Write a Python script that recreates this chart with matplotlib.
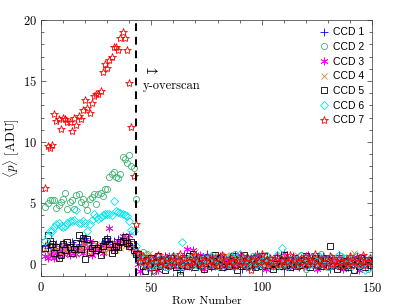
import numpy as np
import matplotlib
matplotlib.use("Agg")
import matplotlib.pyplot as plt

plt.rcParams['mathtext.fontset'] = 'cm'
plt.rcParams['axes.formatter.use_mathtext'] = True

rows_pre = list(range(2, 44))
rows_post = list(range(44, 151))

ccd1_pre = [1.5,1.3,1.7,1.4,1.2,1.6,1.3,1.5,1.7,1.4,1.2,1.6,1.8,1.5,1.3,1.6,1.9,2.0,2.1,1.8,
            1.7,1.3,1.2,1.4,1.1,1.5,1.7,1.9,2.1,1.8,1.6,1.9,1.7,2.0,1.9,2.2,1.8,1.6,1.9,1.4,1.1,0.9]
ccd2_pre = [4.7,5.0,5.26,5.26,5.26,4.57,4.85,5.07,5.3,5.8,4.5,5.07,5.2,4.5,5.67,5.75,5.07,5.35,4.93,4.43,
            5.35,5.48,5.75,4.93,5.75,5.83,5.6,6.17,6.17,7.13,7.4,7.55,7.13,7.0,7.4,8.73,8.6,8.24,8.93,8.0,7.9,5.35]
ccd3_pre = [0.6,0.5,0.8,0.7,0.5,0.9,0.6,1.1,0.8,1.3,1.0,0.7,1.2,0.9,0.8,1.5,1.1,0.9,1.6,1.3,
            1.9,0.7,1.0,1.4,1.2,1.5,0.9,1.3,1.6,2.9,1.4,1.2,1.7,1.5,1.9,2.3,2.0,1.7,2.4,1.5,1.2,0.8]
ccd4_pre = [1.2,1.6,1.0,1.3,1.5,1.1,1.4,0.9,1.6,1.2,1.0,1.3,1.7,1.1,0.8,1.4,1.2,1.9,1.5,1.0,
            1.3,0.9,1.2,1.6,1.4,1.1,1.3,1.0,1.5,1.2,1.4,1.7,1.1,1.6,1.3,1.8,1.5,2.0,1.6,1.3,1.0,1.1]
ccd5_pre = [1.3,2.4,1.9,1.6,0.9,1.4,0.5,0.7,1.6,1.1,1.8,1.4,0.9,1.2,1.7,2.4,1.2,2.1,0.4,2.0,
            1.0,1.3,1.6,1.1,1.3,0.7,1.5,1.9,2.0,1.6,0.9,1.1,1.5,1.4,1.8,1.9,2.2,1.7,1.5,1.8,1.1,0.8]
ccd6_pre = [1.85,2.3,2.73,2.7,3.0,3.28,3.33,3.14,3.0,3.14,3.33,3.55,3.5,3.6,4.38,3.33,3.33,3.5,3.33,2.73,
            3.28,3.6,4.1,3.83,3.7,3.83,3.97,4.1,4.1,4.1,3.97,5.15,4.3,4.25,4.17,4.05,3.97,3.9,3.55,2.8,2.73,1.5]
ccd7_pre = [6.2,9.67,9.5,9.75,12.3,11.7,11.9,11.05,11.95,11.9,11.6,11.6,10.9,12.0,11.35,12.15,11.9,12.6,13.4,12.8,
            12.35,13.2,13.8,13.9,13.9,14.2,15.7,16.4,16.1,16.7,17.0,17.8,17.8,17.5,18.5,19.0,18.5,17.5,14.8,11.2,7.2,3.3]

ccd1_post = [0.7,0.4,0.0,0.3,-0.3,0.2,-0.5,0.1,0.5,0.0,
             0.3,-0.1,0.6,0.2,-0.2,0.1,0.5,-0.1,0.3,-0.5,
             0.2,0.7,0.0,0.4,-0.3,0.3,0.1,0.6,-0.1,0.2,
             0.5,0.8,0.0,-0.3,0.3,-0.1,0.2,0.6,0.0,0.3,
             -0.2,0.4,0.2,-0.1,0.7,0.0,0.3,-0.4,0.2,0.5,
             -0.1,0.3,0.0,0.6,0.8,0.2,-0.3,0.4,0.1,0.3,
             -0.1,0.2,0.4,0.7,0.0,0.3,-0.4,0.2,-0.1,0.5,
             0.6,0.0,0.3,-0.3,0.2,0.4,-0.1,0.7,0.1,0.3,
             0.2,-0.3,0.5,0.0,0.6,-0.1,0.3,-0.4,0.2,0.4,
             0.0,0.7,0.3,-0.1,0.2,-0.3,0.5,0.1,0.3,0.6,
             -0.1,0.2,0.5,0.0,0.3,-0.2,0.2]
ccd2_post = [0.9,0.7,1.0,0.4,0.8,0.2,0.5,0.0,0.3,-0.1,
             0.4,0.2,-0.3,0.3,0.0,0.5,-0.1,0.2,0.4,-0.6,
             0.3,0.0,-0.2,0.4,0.2,-0.1,0.5,0.3,0.0,-0.3,
             0.2,0.4,-0.1,0.3,0.7,0.0,0.2,-0.2,0.4,0.1,
             0.3,-0.1,0.6,0.2,0.8,0.0,0.3,0.5,-0.1,0.2,
             -0.3,0.1,0.6,0.3,-0.1,0.2,0.4,0.0,0.7,-0.2,
             0.3,0.0,0.2,0.5,-0.1,0.3,0.6,0.1,-0.3,0.2,
             0.4,-0.1,0.3,0.0,0.7,0.2,-0.4,0.4,0.1,0.3,
             -0.1,0.6,0.2,0.8,0.0,0.3,-0.3,0.2,0.5,-0.1,
             0.3,0.0,0.6,0.2,-0.2,0.4,0.1,0.3,-0.5,0.2,
             0.4,-0.1,0.3,0.0,-0.4,0.2,0.3]
ccd3_post = [0.0,-0.6,0.1,-0.2,0.4,-0.3,0.2,0.0,0.5,-0.5,
             0.1,0.4,-0.2,0.2,0.6,0.0,-0.3,0.4,0.1,0.5,
             0.0,0.2,1.2,-0.2,0.1,1.1,0.3,0.0,0.7,0.2,
             -0.4,0.1,0.4,0.0,0.5,-0.2,0.2,0.1,0.6,-0.3,
             0.3,0.0,0.2,0.5,-0.2,0.1,0.7,0.0,0.3,-0.3,
             0.2,0.5,0.1,-0.2,0.4,0.0,0.6,0.2,-0.4,0.1,
             0.3,-0.2,0.5,0.1,0.0,0.2,0.9,-0.2,0.3,0.1,
             -0.3,0.2,0.5,0.0,0.3,-0.2,0.1,0.6,0.2,0.0,
             0.3,-0.4,0.1,0.5,-0.2,0.2,0.0,0.4,0.1,-0.3,
             0.2,0.5,0.0,-0.4,0.3,0.1,-0.2,0.2,0.0,0.5,
             -0.5,0.1,0.3,-0.2,0.2,0.0,0.1]
ccd4_post = [0.8,0.4,0.1,0.6,0.2,0.8,-0.1,0.5,0.0,0.3,
             -0.2,0.2,0.6,0.0,0.3,-0.1,0.5,0.7,0.2,-0.2,
             0.3,0.0,0.5,-0.1,0.2,0.6,1.0,0.0,0.3,-0.1,
             0.5,0.2,-0.3,0.3,0.0,0.6,-0.1,0.2,0.5,0.0,
             0.7,0.3,-0.2,0.2,0.5,-0.1,0.3,0.0,0.6,0.2,
             -0.1,0.5,0.0,0.3,-0.3,0.2,0.6,-0.1,0.3,0.0,
             0.5,0.2,-0.1,0.3,0.0,0.6,-0.3,0.2,0.5,-0.1,
             0.3,0.0,0.7,0.2,-0.3,0.3,0.0,0.5,-0.1,0.2,
             0.6,0.0,0.3,-0.2,0.2,0.5,-0.1,0.3,0.0,0.6,
             0.2,-0.1,0.5,0.0,0.3,-0.3,0.2,0.6,0.9,0.0,
             0.3,-0.1,0.5,0.2,0.0,0.3,-0.1]
ccd5_post = [0.8,0.2,-0.2,-0.6,0.3,-0.1,0.5,-0.3,0.1,0.6,
             -0.2,0.2,-0.5,0.3,-0.1,0.5,0.0,-0.3,0.2,-0.9,
             -0.1,0.3,-0.2,0.6,0.0,0.8,-0.3,0.2,-0.1,0.5,
             -0.4,0.1,0.3,-0.2,0.2,0.7,-0.1,0.5,-0.3,0.0,
             0.3,-0.2,0.2,0.6,-0.1,-0.5,0.3,0.0,0.7,-0.2,
             0.2,-0.1,0.5,-0.3,0.1,0.3,-0.2,0.6,0.2,-0.1,
             0.3,-0.4,0.0,0.5,-0.2,0.2,0.7,-0.1,0.3,-0.3,
             0.0,0.5,-0.2,0.2,-0.1,0.3,0.6,0.0,-0.3,0.2,
             0.5,-0.1,0.3,-0.2,0.0,0.5,0.2,1.5,-0.1,0.3,
             -0.4,0.0,-0.2,0.2,-0.1,-0.3,0.3,0.0,-0.5,0.2,
             -0.2,0.5,0.0,-0.3,0.3,-0.1,0.2]
ccd6_post = [0.6,0.3,0.0,0.5,-0.2,0.2,-0.1,-0.6,0.3,0.0,
             0.5,-0.1,0.2,-0.3,0.3,0.0,0.6,-0.1,0.2,-0.2,
             1.8,0.3,0.0,0.5,-0.1,0.2,0.7,-0.2,0.3,0.0,
             0.5,-0.1,0.2,0.6,0.0,0.3,-0.2,0.2,0.5,-0.1,
             0.3,0.0,0.6,-0.2,0.2,0.5,0.8,0.0,0.3,-0.1,
             0.2,0.5,-0.2,0.3,0.0,0.6,-0.1,0.2,0.5,0.0,
             0.3,-0.2,0.2,0.7,-0.1,1.3,0.0,0.3,-0.2,0.2,
             0.5,-0.1,0.3,0.0,0.6,0.2,-0.2,0.3,0.0,0.5,
             -0.1,0.2,0.6,0.0,0.3,-0.2,0.2,0.5,-0.1,0.3,
             0.0,0.7,0.2,-0.1,0.5,0.0,0.3,-0.2,0.2,0.6,
             -0.1,0.3,0.0,-0.5,0.2,0.5,0.0]
ccd7_post = [0.9,0.2,0.6,-0.1,0.3,0.0,0.5,-0.6,0.2,0.7,
             -0.1,0.3,0.0,0.5,-0.2,0.2,0.6,-0.1,0.3,0.8,
             0.0,0.5,-0.2,0.2,-0.1,0.3,0.7,0.0,0.5,-0.3,
             0.2,0.6,-0.1,0.3,0.0,0.5,-0.2,0.2,0.7,0.0,
             0.3,-0.1,0.5,0.2,-0.2,0.3,0.0,0.6,-0.1,0.2,
             0.5,-0.5,0.3,0.0,0.6,0.2,0.8,-0.1,0.3,0.0,
             0.5,-0.2,0.2,0.6,0.0,0.3,-0.1,0.5,0.2,0.7,
             0.0,0.3,-0.2,0.2,0.5,-0.1,0.6,0.0,0.3,0.2,
             0.8,-0.1,0.3,0.0,0.5,-0.2,0.2,0.6,0.0,0.3,
             -0.1,0.5,0.2,-0.2,0.3,0.0,0.6,-0.1,0.2,0.5,
             0.0,0.3,0.7,-0.1,0.2,0.5,0.0]

labels = ['CCD 1', 'CCD 2', 'CCD 3', 'CCD 4', 'CCD 5', 'CCD 6', 'CCD 7']
overscan_row = 43

series = [ccd1_pre + ccd1_post, ccd2_pre + ccd2_post, ccd3_pre + ccd3_post,
          ccd4_pre + ccd4_post, ccd5_pre + ccd5_post, ccd6_pre + ccd6_post,
          ccd7_pre + ccd7_post]
rows = rows_pre + rows_post

styles = [
    dict(marker='+', color='#0000ff', ms=5.5, mew=0.6),
    dict(marker='o', color='#3cb371', ms=4.4, mew=0.6, mfc='none'),
    dict(marker=(6, 2, 0), color='#ff00ff', ms=5.5, mew=0.6),
    dict(marker='x', color='#e0802c', ms=3.8, mew=0.6),
    dict(marker='s', color='#000000', ms=4.2, mew=0.6, mfc='none'),
    dict(marker='D', color='#00e5ee', ms=3.8, mew=0.6, mfc='none'),
    dict(marker='*', color='#ff0000', ms=6, mew=0.6, mfc='none'),
]

fig = plt.figure(figsize=(3.99, 3.08), dpi=100)
ax = fig.add_axes([41/399, 32/308, 331/399, 256/308])

for lab, y, st in zip(labels, series, styles):
    ax.plot(rows, y, linestyle='none', label=lab, **st)

ax.axvline(overscan_row, color='black', linestyle=(0, (4, 3)), lw=1.4)

ax.set_xlim(0, 150)
ax.set_ylim(-1, 20)
ax.set_xticks([0, 50, 100, 150])
ax.set_yticks([0, 5, 10, 15, 20])
ax.set_xticks(np.arange(0, 151, 10), minor=True)
ax.set_yticks(np.arange(-1, 21, 1), minor=True)
ax.tick_params(which='both', direction='in', top=True, right=True, colors='#333333',
               labelcolor='black', labelsize=9)
ax.tick_params(which='major', length=3.5, width=0.5)
ax.tick_params(which='minor', length=2, width=0.5)
ax.tick_params(axis='y', pad=3)
for lab in ax.get_xticklabels() + ax.get_yticklabels():
    lab.set_fontfamily('cmr10')
for s in ax.spines.values():
    s.set_linewidth(0.5)
    s.set_color('#333333')

ax.set_xlabel('Row Number', fontfamily='cmr10', fontsize=8.6, labelpad=1.5)
ax.set_ylabel(r'$\langle p\rangle$ [ADU]', fontfamily='cmr10', fontsize=9.3)
ax.yaxis.set_label_coords(-0.056, 0.5)

ax.text(46.2, 15.9, r'$\mapsto$', fontsize=10, va='center', ha='left')
ax.text(46.2, 14.6, 'y-overscan', fontfamily='cmr10', fontsize=9, va='center', ha='left')

leg = ax.legend(loc='upper right', frameon=False,
                prop={'family': 'Liberation Sans', 'size': 7.5},
                handlelength=0.5, handletextpad=0.7, labelspacing=0.45,
                borderaxespad=0.3, markerscale=1.0)

fig.savefig('out.png', dpi=100)
